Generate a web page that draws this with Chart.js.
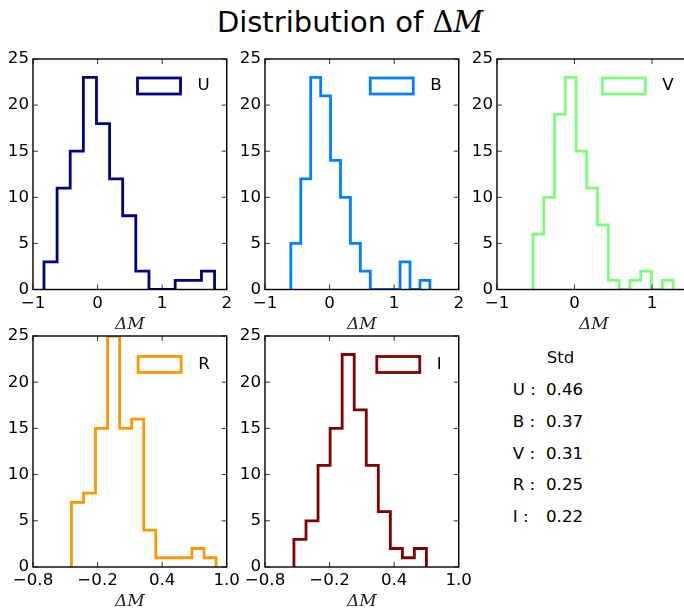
<!DOCTYPE html>
<html>
<head>
<meta charset="utf-8">
<script src="https://cdn.jsdelivr.net/npm/chart.js@4/dist/chart.umd.min.js"></script>
<style>
html,body{margin:0;padding:0;overflow:hidden}
body{width:684px;height:608px;position:relative;background:#fff;font-family:"DejaVu Sans",sans-serif;color:#000}
.panel{position:absolute}
#titulo{position:absolute;left:8px;width:684px;top:4px;line-height:36px;text-align:center;font-size:29px}
#titulo .mat{font-family:"DejaVu Serif",serif}
.stat{position:absolute;font-size:16.67px;line-height:20px;white-space:pre}
</style>
</head>
<body>
<div id="titulo">Distribution of <span class="mat">Δ<i>M</i></span></div>
<script>
// Datos: bordes de los bins y cuentas por banda
const bandas = ["U", "B", "V", "R", "I"];
const colores = ["#000080", "#0080ff", "#7bff7b", "#ff9700", "#800000"];

const bordesU = [-0.83, -0.627, -0.424, -0.22, -0.017, 0.186, 0.389, 0.592, 0.796, 0.999, 1.202, 1.405, 1.609, 1.812];
const cuentasU = [3, 11, 15, 23, 18, 12, 8, 2, 0, 0, 1, 1, 2];

const bordesB = [-0.6, -0.446, -0.292, -0.138, 0.015, 0.169, 0.323, 0.477, 0.631, 0.785, 0.938, 1.092, 1.246, 1.4, 1.554];
const cuentasB = [5, 12, 23, 21, 14, 10, 5, 2, 0, 0, 0, 3, 0, 1];

const bordesV = [-0.536, -0.397, -0.258, -0.119, 0.02, 0.159, 0.298, 0.437, 0.576, 0.715, 0.854, 0.994, 1.133, 1.272];
const cuentasV = [6, 10, 19, 23, 15, 11, 7, 1, 0, 1, 2, 0, 1];

const bordesR = [-0.443, -0.331, -0.219, -0.107, 0.005, 0.117, 0.229, 0.341, 0.453, 0.565, 0.677, 0.789, 0.901];
const cuentasR = [7, 8, 15, 25, 15, 16, 4, 1, 1, 1, 2, 1];

const bordesI = [-0.531, -0.419, -0.307, -0.195, -0.083, 0.029, 0.141, 0.253, 0.365, 0.477, 0.588, 0.7];
const cuentasI = [3, 5, 11, 15, 23, 17, 11, 6, 2, 1, 2];

// Ejes x: arriba -1..2 (V se corta en el borde), abajo -0.8..1.0
const limitesX = [[-1, 2], [-1, 2], [-1, 1.5], [-0.8, 1.0], [-0.8, 1.0]];
const pasosX = [1, 1, 1, 0.6, 0.6];
const ticksY = [0, 5, 10, 15, 20, 25];

// Tabla de desviaciones
const valoresStd = ["0.46", "0.37", "0.31", "0.25", "0.22"];

// Cajas de los ejes en pixeles
const cajas = [
  {x: 33.3, y: 59.3, w: 193.7, h: 230.5},
  {x: 265, y: 59.3, w: 193.7, h: 230.5},
  {x: 496.7, y: 59.3, w: 193.7, h: 230.5},
  {x: 33.3, y: 335.5, w: 193.7, h: 231},
  {x: 265, y: 335.5, w: 193.7, h: 231}
];

const fuente = {family: "DejaVu Sans", size: 16.67};

function formato(v, dec){
  let s = dec > 0 ? v.toFixed(dec) : String(Math.round(v));
  if (dec > 0 && Math.abs(v) < 1e-9) s = (0).toFixed(dec);
  return s.replace("-", "\u2212");
}

// Marco, ticks hacia dentro y leyenda (por encima del histograma)
const marco = {
  id: "marco",
  afterDatasetsDraw(chart, args, opts) {
    const ctx = chart.ctx;
    const a = chart.chartArea;
    const sx = chart.scales.x, sy = chart.scales.y;
    ctx.save();
    ctx.strokeStyle = "#000";
    ctx.lineWidth = 0.8;
    ctx.beginPath();
    sx.ticks.forEach(t => {
      let px = sx.getPixelForValue(t.value);
      ctx.moveTo(px, a.bottom); ctx.lineTo(px, a.bottom - 5);
      ctx.moveTo(px, a.top); ctx.lineTo(px, a.top + 5);
    });
    sy.ticks.forEach(t => {
      let py = sy.getPixelForValue(t.value);
      ctx.moveTo(a.left, py); ctx.lineTo(a.left + 5, py);
      ctx.moveTo(a.right, py); ctx.lineTo(a.right - 5, py);
    });
    ctx.stroke();
    ctx.lineWidth = 1.4;
    ctx.strokeRect(a.left, a.top, a.right - a.left, a.bottom - a.top);

    // leyenda
    const ds = chart.data.datasets[0];
    ctx.font = '16.67px "DejaVu Sans"';
    const ancho = ctx.measureText(ds.label).width;
    const xTexto = a.right - 17 - ancho;
    const yc = a.top + opts.dy;
    ctx.fillStyle = "#000";
    ctx.textBaseline = "middle";
    ctx.textAlign = "left";
    ctx.fillText(ds.label, xTexto, yc);
    ctx.strokeStyle = ds.borderColor;
    ctx.lineWidth = 2.8;
    ctx.strokeRect(xTexto - 17 - 43, yc - 8, 43, 16);
    ctx.restore();
  }
};

function crearPanel(i, bordes, cuentas){
  const L = 60, T = 20, R = 40, B = 50;
  const caja = cajas[i];
  const div = document.createElement("div");
  div.className = "panel";
  div.style.left = (caja.x - L) + "px";
  div.style.top = (caja.y - T) + "px";
  const canvas = document.createElement("canvas");
  canvas.width = Math.round(caja.w + L + R);
  canvas.height = Math.round(caja.h + T + B);
  div.appendChild(canvas);
  document.body.appendChild(div);

  const ajusteR = canvas.width - caja.w - L;
  const ajusteB = canvas.height - caja.h - T;

  // contorno tipo "step": sube en el primer borde y baja en el ultimo
  let puntos = [{x: bordes[0], y: 0}];
  for (let k = 0; k < cuentas.length; k++) {
    puntos.push({x: bordes[k], y: cuentas[k]});
  }
  puntos.push({x: bordes[bordes.length - 1], y: 0});

  const dec = pasosX[i] < 1 ? 1 : 0;

  new Chart(canvas, {
    type: "line",
    data: {
      datasets: [{
        label: bandas[i],
        data: puntos,
        borderColor: colores[i],
        borderWidth: 2.8,
        stepped: "before",
        pointRadius: 0,
        fill: false,
        clip: 0,
        borderJoinStyle: "miter",
        borderCapStyle: "butt"
      }]
    },
    options: {
      responsive: false,
      animation: false,
      events: [],
      layout: {padding: {left: 0, top: T, right: ajusteR, bottom: 0}},
      plugins: {legend: {display: false}, tooltip: {enabled: false}, marco: {dy: i < 3 ? 27 : 28.5}},
      scales: {
        x: {
          type: "linear",
          min: limitesX[i][0],
          max: limitesX[i][1],
          grid: {display: false, drawTicks: false},
          border: {display: false},
          ticks: {
            stepSize: pasosX[i],
            includeBounds: false,
            maxRotation: 0,
            autoSkip: false,
            padding: 4,
            color: "#000",
            font: fuente,
            callback: v => formato(v, dec)
          },
          title: {
            display: true,
            text: "ΔM",
            color: "#222",
            font: {family: "DejaVu Serif", style: "italic", size: 17},
            padding: {top: 0, bottom: 5}
          },
          afterFit: s => { s.height = ajusteB; }
        },
        y: {
          type: "linear",
          min: 0,
          max: 25,
          grid: {display: false, drawTicks: false},
          border: {display: false},
          afterBuildTicks: s => { s.ticks = ticksY.map(v => ({value: v})); },
          ticks: {
            padding: 4,
            color: "#000",
            font: fuente,
            callback: v => formato(v, 0)
          },
          afterFit: s => { s.width = L; }
        }
      }
    },
    plugins: [marco]
  });
}

crearPanel(0, bordesU, cuentasU);
crearPanel(1, bordesB, cuentasB);
crearPanel(2, bordesV, cuentasV);
crearPanel(3, bordesR, cuentasR);
crearPanel(4, bordesI, cuentasI);

// Texto de la tabla Std
function texto(t, x, yc){
  const d = document.createElement("div");
  d.className = "stat";
  d.textContent = t;
  d.style.left = x + "px";
  d.style.top = (yc - 9.7) + "px";
  document.body.appendChild(d);
}
texto("Std", 546.7, 358);
for (let i = 0; i < bandas.length; i++) {
  let yc = 390 + i * 31.6;
  texto(bandas[i] + " :", 512.7, yc);
  texto(valoresStd[i], 546, yc);
}
</script>
</body>
</html>
